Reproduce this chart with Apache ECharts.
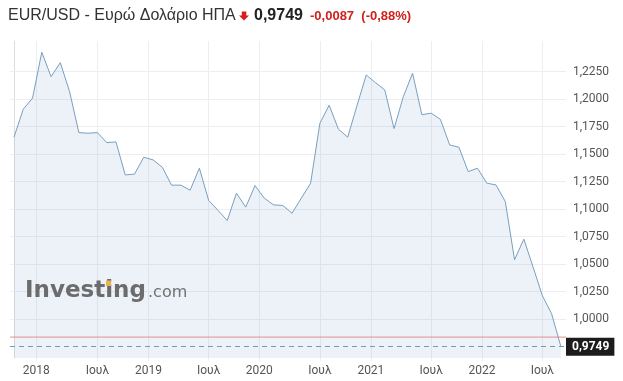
<!DOCTYPE html>
<html>
<head>
<meta charset="utf-8">
<script src="https://cdn.jsdelivr.net/npm/echarts@6/dist/echarts.min.js"></script>
<style>
html,body{margin:0;padding:0;background:#fff;}
#c{width:623px;height:381px;}
</style>
</head>
<body>
<div id="c"></div>
<script>
// Monthly closes, Oct 2017 .. Sep 2022 (index 0..59)
const values = [
  1.1654, 1.1909, 1.2009, 1.2427, 1.2205, 1.2332, 1.2068, 1.1696, 1.1690, 1.1696,
  1.1605, 1.1611, 1.1311, 1.1318, 1.1472, 1.1448, 1.1381, 1.1218, 1.1218, 1.1172,
  1.1372, 1.1080, 1.0990, 1.0896, 1.1145, 1.1018, 1.1214, 1.1100, 1.1039, 1.1033,
  1.0963, 1.1100, 1.1236, 1.1781, 1.1945, 1.1727, 1.1654, 1.1940, 1.2220, 1.2150,
  1.2084, 1.1732, 1.2023, 1.2236, 1.1859, 1.1872, 1.1817, 1.1584, 1.1563, 1.1341,
  1.1372, 1.1236, 1.1220, 1.1069, 1.0539, 1.0727, 1.0473, 1.0212, 1.0048, 0.9749
];
// x-axis tick labels and their positions in month-index units
const xTickLabels = ['2018', 'Ιουλ', '2019', 'Ιουλ', '2020', 'Ιουλ', '2021', 'Ιουλ', '2022', 'Ιουλ'];
const xTickPos = [2.4, 9, 14.5, 21, 26.45, 33, 38.5, 45, 50.5, 57];
// y-axis tick values
const yTicks = [1.0, 1.025, 1.05, 1.075, 1.1, 1.125, 1.15, 1.175, 1.2, 1.225];
const lastValue = 0.9749;
const change = -0.0087;
const changePct = -0.88;
const prevClose = 0.9836;

const X_MIN = -0.43, X_MAX = 59.55;
const fmt4 = v => v.toFixed(4).replace('.', ',');
const seriesData = values.map((v, i) => [i, v]);

const chart = echarts.init(document.getElementById('c'), null, {renderer: 'canvas'});
const gridColor = '#eceef1';
const labelColor = '#555';

chart.setOption({
  animation: false,
  backgroundColor: '#fff',
  grid: {left: 10, right: 57, top: 41, bottom: 23, containLabel: false},
  xAxis: {
    type: 'value',
    min: X_MIN,
    max: X_MAX,
    axisLine: {show: false},
    axisTick: {show: true, length: 3, lineStyle: {color: gridColor}, customValues: xTickPos},
    splitLine: {show: true, lineStyle: {color: gridColor, width: 1}},
    axisLabel: {
      customValues: xTickPos,
      color: labelColor,
      fontSize: 12,
      fontFamily: 'Roboto',
      margin: 7,
      formatter: function (v) {
        let best = 0, d = 1e9;
        xTickPos.forEach((p, k) => { if (Math.abs(p - v) < d) { d = Math.abs(p - v); best = k; } });
        return xTickLabels[best];
      }
    }
  },
  yAxis: {
    type: 'value',
    position: 'right',
    min: 0.9646,
    max: 1.2529,
    axisLine: {show: true, lineStyle: {color: '#dcdcdc'}},
    axisTick: {show: true, length: 4, lineStyle: {color: gridColor}, customValues: yTicks},
    splitLine: {show: true, lineStyle: {color: gridColor, width: 1}},
    axisLabel: {
      customValues: yTicks,
      color: labelColor,
      fontSize: 12,
      fontFamily: 'Roboto',
      margin: 7,
      formatter: v => fmt4(v)
    }
  },
  series: [
    {
      type: 'line',
      data: seriesData,
      showSymbol: false,
      symbol: 'none',
      z: 2,
      lineStyle: {color: '#7a9fbf', width: 1},
      areaStyle: {color: 'rgba(120,160,205,0.2)', origin: 'start'},
      markLine: {
        silent: true,
        precision: 4,
        symbol: ['none', 'none'],
        lineStyle: {color: '#8196a8', type: [5, 4], width: 1, opacity: 1},
        label: {show: true, position: 'end', distance: 0, formatter: fmt4(lastValue),
                backgroundColor: '#1c1c1c', color: '#fff', fontWeight: 'bold', fontSize: 12,
                fontFamily: 'Roboto', padding: [3, 5, 3, 6], lineHeight: 12},
        data: [{yAxis: lastValue}]
      }
    },
    {
      // previous close line
      type: 'line',
      data: [[X_MIN, prevClose], [X_MAX, prevClose]],
      showSymbol: false,
      symbol: 'none',
      silent: true,
      z: 3,
      color: '#e07c7c',
      lineStyle: {color: '#e07c7c', width: 1, opacity: 0.85}
    }
  ],
  graphic: [
    {type: 'text', left: 8, top: 8, style: {text: 'EUR/USD - Ευρώ Δολάριο ΗΠΑ', font: '16px "Liberation Sans", Arial', fill: '#333'}},
    {type: 'polygon', shape: {points: [[241.8, 11.5], [246.3, 11.5], [246.3, 15.5], [249, 15.5], [244, 20.5], [239, 15.5], [241.8, 15.5]]}, style: {fill: '#d81f1f'}},
    {type: 'text', x: 254, y: 16, style: {text: fmt4(lastValue), font: 'bold 16px "Liberation Sans", Arial', fill: '#222', verticalAlign: 'middle'}},
    {type: 'text', x: 310, y: 16.5, style: {text: fmt4(change) + '  (' + changePct.toFixed(2).replace('.', ',') + '%)', font: 'bold 13px "Liberation Sans", Arial', fill: '#d0211c', verticalAlign: 'middle'}},
    {type: 'text', x: 25, y: 280, z: 10, style: {text: 'Investing', font: 'bold 23px "DejaVu Sans"', fill: '#6c6c6c', verticalAlign: 'top'}},
    {type: 'text', x: 148, y: 285, z: 10, style: {text: '.com', font: '16px "DejaVu Sans"', fill: '#707070', verticalAlign: 'top'}},
    {type: 'rect', z: 11, shape: {x: 106, y: 280.5, width: 5, height: 5.5}, style: {fill: '#e8b54c'}}
  ]
});
</script>
</body>
</html>
